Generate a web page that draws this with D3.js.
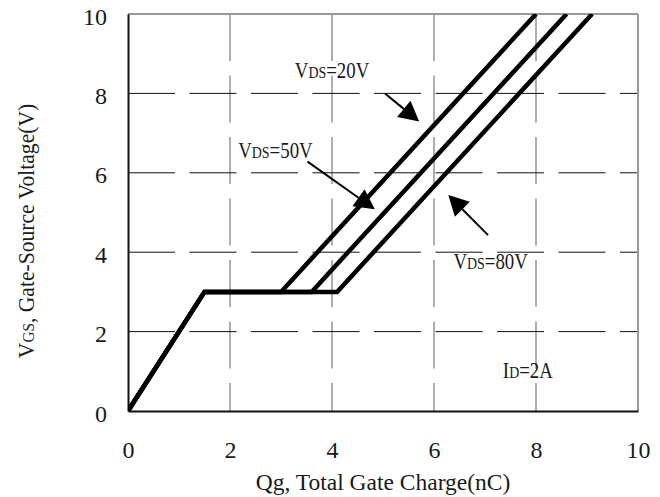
<!DOCTYPE html>
<html>
<head>
<meta charset="utf-8">
<script src="https://cdn.jsdelivr.net/npm/d3@7"></script>
<style>
    html, body { margin: 0; padding: 0; background: #fff; }
    svg text { font-family: "Liberation Serif", "Times New Roman", serif; fill: #1a1a1a; }
</style>
</head>
<body>
<div id="chart"></div>
<script>
// Gate charge curves, one Qg list per VDS, shared VGS breakpoints
const vgsPoints = [0, 3, 3, 10];
const qg20V = [0, 1.5, 3.0, 8.0];
const qg50V = [0, 1.5, 3.6, 8.6];
const qg80V = [0, 1.5, 4.1, 9.1];

const xTicks = [0, 2, 4, 6, 8, 10];
const yTicks = [0, 2, 4, 6, 8, 10];
const gridTicks = [2, 4, 6, 8];

// annotation labels: [main, sub, rest, x, y]
const labels = [
    ["V", "DS", "=20V", 3.27, 8.38],
    ["V", "DS", "=50V", 2.16, 6.37],
    ["V", "DS", "=80V", 6.38, 3.57],
    ["I", "D", "=2A", 7.35, 0.83]
];

// arrows: [x1, y1, x2 (tip), y2 (tip)]
const arrows = [
    [5.04, 8.00, 5.71, 7.29],
    [3.52, 6.28, 4.84, 5.08],
    [7.06, 4.43, 6.28, 5.44]
];

function renderChart() {
    const W = 660, H = 497;
    const margin = {top: 14, right: 22, bottom: 86, left: 128};
    const width = W - margin.left - margin.right;
    const height = H - margin.top - margin.bottom;

    const svg = d3.select("#chart")
        .append("svg")
        .attr("width", W)
        .attr("height", H);

    const g = svg.append("g")
        .attr("transform", `translate(${margin.left},${margin.top})`);

    const x = d3.scaleLinear().domain([0, 10]).range([0, width]);
    const y = d3.scaleLinear().domain([0, 10]).range([height, 0]);

    g.append("clipPath").attr("id", "plot-clip")
        .append("rect")
        .attr("width", width)
        .attr("height", height);

    // grid
    g.selectAll(".vgrid")
        .data(gridTicks)
        .enter()
        .append("line")
        .attr("x1", d => x(d))
        .attr("x2", d => x(d))
        .attr("y1", 0)
        .attr("y2", height)
        .style("stroke", "#7a7a7a")
        .style("stroke-width", 1.2)
        .style("stroke-dasharray", "47,14.5");

    g.selectAll(".hgrid")
        .data(gridTicks)
        .enter()
        .append("line")
        .attr("x1", 0)
        .attr("x2", width)
        .attr("y1", d => y(d))
        .attr("y2", d => y(d))
        .style("stroke", "#111")
        .style("stroke-width", 1)
        .style("stroke-dasharray", "47,14.5");

    // frame: gray top/right, black left/bottom
    g.append("line")
        .attr("x1", 0).attr("x2", width).attr("y1", 0).attr("y2", 0)
        .style("stroke", "#999").style("stroke-width", 2);
    g.append("line")
        .attr("x1", width).attr("x2", width).attr("y1", 0).attr("y2", height)
        .style("stroke", "#999").style("stroke-width", 2);

    const xAxis = d3.axisBottom(x).tickValues(xTicks).tickSize(0).tickPadding(30);
    const yAxis = d3.axisLeft(y).tickValues(yTicks).tickSize(0).tickPadding(21);

    g.append("g")
        .attr("transform", `translate(0,${height})`)
        .call(xAxis)
        .call(a => a.select(".domain").style("stroke", "#111").style("stroke-width", 2))
        .selectAll("text")
        .style("font-size", "24px")
        .style("font-family", "Liberation Serif");

    g.append("g")
        .call(yAxis)
        .call(a => a.select(".domain").style("stroke", "#111").style("stroke-width", 2))
        .selectAll("text")
        .style("font-size", "24px")
        .style("font-family", "Liberation Serif")
        .attr("dy", "0.42em");

    // curves
    const line = d3.line()
        .x(d => x(d[0]))
        .y(d => y(d[1]));

    [qg20V, qg50V, qg80V].forEach(qs => {
        g.append("path")
            .datum(qs.map((q, i) => [q, vgsPoints[i]]))
            .attr("d", line)
            .attr("clip-path", "url(#plot-clip)")
            .style("fill", "none")
            .style("stroke", "#000")
            .style("stroke-width", 4.5)
            .style("stroke-linejoin", "miter");
    });

    // arrows
    arrows.forEach(a => {
        const x1 = x(a[0]), y1 = y(a[1]), x2 = x(a[2]), y2 = y(a[3]);
        const ang = Math.atan2(y2 - y1, x2 - x1);
        const len = 20, hw = 10.5;
        const bx = x2 - len * Math.cos(ang), by = y2 - len * Math.sin(ang);
        g.append("line")
            .attr("x1", x1).attr("y1", y1)
            .attr("x2", bx).attr("y2", by)
            .style("stroke", "#000")
            .style("stroke-width", 2);
        const pts = [
            [x2, y2],
            [bx + hw * Math.sin(ang), by - hw * Math.cos(ang)],
            [bx - hw * Math.sin(ang), by + hw * Math.cos(ang)]
        ];
        g.append("polygon")
            .attr("points", pts.map(p => p.join(",")).join(" "))
            .style("fill", "#000");
    });

    // annotation labels (the original face is narrow, so squeeze horizontally)
    labels.forEach(l => {
        const t = g.append("text")
            .attr("transform", `translate(${x(l[3])},${y(l[4])}) scale(0.82,1)`)
            .style("font-size", "23px");
        t.append("tspan").text(l[0]);
        t.append("tspan").style("font-size", "17px").text(l[1]);
        t.append("tspan").text(l[2]);
    });

    // axis titles
    svg.append("text")
        .attr("x", margin.left + width / 2)
        .attr("y", 490)
        .attr("text-anchor", "middle")
        .style("font-size", "23.5px")
        .text("Qg, Total Gate Charge(nC)");

    const yt = svg.append("text")
        .attr("transform", "translate(34,231) rotate(-90) scale(0.9,1)")
        .attr("text-anchor", "middle")
        .style("font-size", "24px");
    yt.append("tspan").text("V");
    yt.append("tspan").style("font-size", "17px").text("GS");
    yt.append("tspan").text(", Gate-Source Voltage(V)");
}

document.addEventListener('DOMContentLoaded', () => {
    renderChart();
});
</script>
</body>
</html>
